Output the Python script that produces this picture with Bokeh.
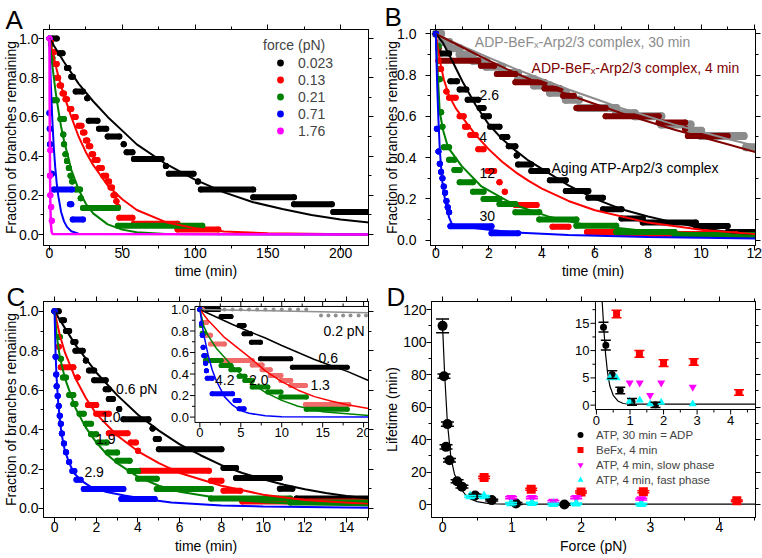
import numpy as np
from bokeh.plotting import figure
from bokeh.layouts import column, row
from bokeh.models import (Range1d, LinearAxis, SingleIntervalTicker, NumeralTickFormatter,
                          PrintfTickFormatter, Label, Legend, LegendItem)
from bokeh.embed import file_html
from bokeh.resources import INLINE
from bokeh.core.properties import value

FONT = "Liberation Sans"

# ======================= DATA =======================
# survival curves given as steps: (t_start, t_end, fraction remaining)
# ---------- Panel A (time in min) ----------
A_LEGEND = ["0.023", "0.13", "0.21", "0.71", "1.76"]
A_black = [(2, 5, 1.0), (7, 9, 0.925), (12, 13, 0.85), (15, 16, 0.805), (18, 23, 0.73), (26, 26, 0.695),
           (27, 33, 0.58), (34, 39, 0.54), (40, 48, 0.50), (51, 51, 0.46), (53, 57, 0.42), (58, 77, 0.385),
           (80, 80, 0.35), (82, 99, 0.31), (102, 102, 0.27), (104, 140, 0.23), (140, 168, 0.19),
           (168, 194, 0.155), (195, 222, 0.115)]
A_red = [(1, 1, 0.98), (3, 3, 0.93), (4, 5, 0.87), (5, 6, 0.80), (7, 8, 0.76), (9, 10, 0.72), (11, 12, 0.69),
         (14, 15, 0.64), (17, 18, 0.60), (20, 22, 0.555), (23, 24, 0.52), (25, 26, 0.48), (27, 28, 0.45),
         (29, 30, 0.41), (31, 33, 0.38), (34, 36, 0.34), (37, 39, 0.30), (40, 41, 0.27), (42, 43, 0.24),
         (44, 45, 0.20), (46, 46, 0.17), (47, 47, 0.14), (48, 57, 0.085), (58, 88, 0.055), (88, 116, 0.025)]
A_green = [(1, 1, 0.97), (2, 2, 0.90), (3, 5, 0.685), (7.5, 10, 0.59), (9.5, 9.5, 0.51), (10, 10, 0.46),
           (11, 11, 0.41), (12, 12, 0.375), (13.3, 13.3, 0.34), (14.5, 14.5, 0.30), (15.6, 15.6, 0.27),
           (18, 21, 0.23), (21.5, 21.5, 0.185), (23, 47, 0.135), (47, 105, 0.045)]
A_blue = [(0, 0, 1.0), (0, 0, 0.62), (0.2, 0.2, 0.54), (0.4, 0.4, 0.46), (1.6, 1.6, 0.31), (3, 15.5, 0.23),
          (14, 15, 0.155), (16, 23, 0.077)]
A_mag = [(0, 0, 1.0), (0.6, 0.6, 0.43), (0.3, 0.3, 0.30), (0.6, 0.6, 0.20), (1.2, 1.2, 0.14), (1.6, 1.6, 0.07)]
A_black_fit_t = [0, 10, 20, 30, 40, 50, 60, 80, 100, 120, 140, 160, 180, 200, 222]
A_black_fit_y = [1.0, 0.88, 0.77, 0.68, 0.60, 0.53, 0.46, 0.36, 0.28, 0.215, 0.165, 0.13, 0.10, 0.077, 0.06]
A_red_fit_t = [0, 2.5, 5, 7.5, 10, 15, 20, 25, 30, 40, 50, 60, 80, 100, 120, 150, 222]
A_red_fit_y = [1.0, 0.92, 0.84, 0.77, 0.71, 0.60, 0.50, 0.42, 0.355, 0.25, 0.18, 0.125, 0.063, 0.032, 0.016, 0.006, 0.0]
A_green_fit_t = [0, 1, 2, 4, 6, 8, 10, 15, 20, 25, 30, 40, 50, 60, 80, 222]
A_green_fit_y = [1.0, 0.93, 0.86, 0.74, 0.64, 0.55, 0.48, 0.33, 0.23, 0.157, 0.108, 0.052, 0.025, 0.012, 0.003, 0.0]
A_blue_fit_t = [0, 0.5, 1, 2, 3, 4, 5, 6, 8, 10, 12, 15, 20, 222]
A_blue_fit_y = [1.0, 0.87, 0.76, 0.58, 0.44, 0.34, 0.26, 0.20, 0.115, 0.067, 0.039, 0.017, 0.0045, 0.0]
A_mag_fit_t = [0, 0.1, 0.2, 0.3, 0.4, 0.6, 0.8, 1, 1.5, 2, 222]
A_mag_fit_y = [1.0, 0.75, 0.55, 0.42, 0.30, 0.17, 0.10, 0.05, 0.015, 0.003, 0.0]

# ---------- Panel B ----------
B_gray = [(0, 0.2, 1.0), (0.2, 0.5, 0.96), (0.5, 0.9, 0.93), (0.9, 1.4, 0.90), (1.4, 1.9, 0.87), (1.9, 2.5, 0.84),
          (2.5, 3.1, 0.81), (3.1, 3.7, 0.78), (3.7, 4.3, 0.75), (4.3, 4.9, 0.715), (4.9, 5.4, 0.68),
          (5.4, 6.8, 0.64), (6.8, 7.5, 0.615), (7.5, 8.5, 0.60), (8.5, 9.6, 0.56), (9.6, 10.0, 0.53),
          (10.0, 11.6, 0.505), (11.7, 12.1, 0.45)]
B_dred = [(0, 0, 1.0), (0.1, 0.1, 0.93), (0.15, 1.6, 0.87), (1.7, 2.2, 0.845), (2.3, 3.0, 0.805), (3.0, 4.1, 0.765),
          (4.1, 4.7, 0.735), (4.8, 5.2, 0.70), (5.3, 6.4, 0.64), (6.4, 8.4, 0.60), (8.4, 9.4, 0.57),
          (9.4, 9.4, 0.54), (9.5, 11.0, 0.505)]
B_black = [(0, 0, 1.0), (0.2, 0.5, 0.905), (0.55, 0.8, 0.77), (0.9, 1.15, 0.73), (1.2, 1.6, 0.68), (1.65, 1.8, 0.64),
           (1.8, 2.0, 0.60), (2.05, 2.4, 0.55), (2.5, 2.7, 0.50), (2.75, 3.0, 0.455), (3.05, 3.05, 0.41),
           (3.1, 3.6, 0.367), (3.6, 4.2, 0.335), (4.3, 4.9, 0.29), (4.9, 5.75, 0.238), (5.75, 6.3, 0.206),
           (6.3, 7.0, 0.15), (7.0, 7.8, 0.105), (7.8, 9.8, 0.085), (9.8, 11.0, 0.069), (11.0, 12.1, 0.04)]
B_red = [(0, 0, 1.0), (0.1, 0.1, 0.87), (0.15, 0.2, 0.83), (0.4, 0.4, 0.72), (0.5, 0.75, 0.69), (0.9, 1.05, 0.60),
         (1.1, 1.2, 0.55), (1.3, 1.5, 0.51), (1.6, 1.8, 0.44), (1.95, 2.2, 0.335), (2.4, 2.4, 0.28),
         (2.6, 2.6, 0.235), (3.0, 3.8, 0.17), (4.4, 5.0, 0.065), (5.7, 6.8, 0.04), (6.8, 11.3, 0.03)]
B_green = [(0, 0, 1.0), (0.1, 0.1, 0.94), (0.15, 0.15, 0.78), (0.2, 0.2, 0.62), (0.25, 0.25, 0.55), (0.3, 0.5, 0.45),
           (0.5, 0.7, 0.39), (0.7, 0.9, 0.34), (0.9, 1.4, 0.28), (1.4, 1.8, 0.235), (1.8, 2.4, 0.20),
           (2.4, 3.0, 0.175), (3.0, 3.9, 0.135), (3.9, 5.3, 0.10), (5.3, 6.8, 0.07), (6.8, 9.0, 0.04),
           (9.0, 12.1, 0.025)]
B_blue = [(0, 0, 1.0), (0.04, 0.04, 0.54), (0.1, 0.1, 0.43), (0.15, 0.15, 0.37), (0.2, 0.2, 0.33), (0.25, 0.25, 0.30),
          (0.3, 0.3, 0.26), (0.35, 0.35, 0.23), (0.4, 0.4, 0.19), (0.45, 0.45, 0.16), (0.5, 0.5, 0.135),
          (0.55, 2.1, 0.067), (2.1, 3.1, 0.033)]
B_fit_t12 = [0, 1, 2, 3, 4, 5, 6, 7, 8, 9, 10, 11, 12.1]
B_gray_fit_y = [1.0, 0.94, 0.885, 0.83, 0.78, 0.73, 0.685, 0.64, 0.60, 0.56, 0.525, 0.49, 0.455]
B_dred_fit_y = [1.0, 0.935, 0.87, 0.81, 0.755, 0.705, 0.66, 0.615, 0.575, 0.535, 0.50, 0.465, 0.425]
B_black_fit_t = [0, 0.25, 0.5, 1, 1.5, 2, 2.5, 3, 3.5, 4, 5, 6, 7, 8, 9, 10, 11, 12.1]
B_black_fit_y = [1.0, 0.96, 0.90, 0.77, 0.655, 0.56, 0.49, 0.435, 0.385, 0.345, 0.265, 0.20, 0.15, 0.115, 0.085, 0.06, 0.04, 0.025]
B_red_fit_t = [0, 0.1, 0.2, 0.3, 0.5, 0.75, 1, 1.5, 2, 2.5, 3, 3.5, 4, 5, 6, 8, 10, 12.1]
B_red_fit_y = [1.0, 0.91, 0.84, 0.78, 0.70, 0.64, 0.595, 0.51, 0.44, 0.38, 0.33, 0.287, 0.25, 0.19, 0.145, 0.085, 0.05, 0.028]
B_green_fit_t = [0, 0.05, 0.1, 0.15, 0.28, 0.46, 0.97, 1.72, 2.98, 4.23, 5.49, 8, 12.1]
B_green_fit_y = [1.0, 0.86, 0.74, 0.62, 0.53, 0.45, 0.36, 0.26, 0.17, 0.115, 0.078, 0.043, 0.02]
B_blue_fit_t = [0, 0.03, 0.06, 0.1, 0.15, 0.23, 0.3, 0.41, 0.5, 0.6, 0.8, 1.2, 2, 3, 5, 8, 12.1]
B_blue_fit_y = [1.0, 0.85, 0.72, 0.58, 0.44, 0.30, 0.23, 0.158, 0.11, 0.08, 0.068, 0.062, 0.05, 0.037, 0.025, 0.015, 0.008]

# ---------- Panel C ----------
C_black = [(0, 0.2, 1.0), (0.35, 0.45, 0.955), (0.55, 0.7, 0.90), (0.9, 1.0, 0.845), (1.0, 1.35, 0.80), (1.5, 1.5, 0.75),
           (1.65, 1.9, 0.70), (1.9, 2.45, 0.65), (2.45, 2.6, 0.605), (2.6, 2.8, 0.555), (3.1, 3.1, 0.505),
           (3.3, 4.5, 0.453), (4.7, 4.7, 0.405), (4.85, 5.0, 0.352), (5.0, 8.0, 0.30), (8.1, 8.7, 0.205),
           (8.7, 10.8, 0.154), (10.8, 11.4, 0.10), (11.6, 15.1, 0.05)]
C_red = [(0, 0, 1.0), (0.2, 0.2, 0.82), (0.3, 0.9, 0.716), (1.1, 1.1, 0.665), (1.6, 2.0, 0.525), (2.0, 2.6, 0.48),
         (2.6, 3.5, 0.382), (3.65, 3.9, 0.335), (4.0, 4.0, 0.293), (4.1, 7.4, 0.191), (7.5, 8.0, 0.14),
         (8.1, 8.9, 0.09), (9.0, 15.1, 0.035)]
C_green = [(0, 0, 1.0), (0.25, 0.25, 0.87), (0.3, 0.3, 0.76), (0.4, 0.55, 0.665), (0.7, 0.9, 0.575), (0.9, 1.0, 0.53),
           (1.2, 1.4, 0.48), (1.5, 1.75, 0.43), (1.75, 2.0, 0.377), (2.1, 2.5, 0.335), (2.55, 3.0, 0.284),
           (3.0, 3.6, 0.242), (3.6, 4.0, 0.19), (4.0, 4.9, 0.15), (4.9, 7.5, 0.098), (7.5, 11.3, 0.05),
           (11.3, 15.1, 0.03)]
C_blue = [(0, 0, 1.0), (0.05, 0.05, 0.77), (0.08, 0.08, 0.68), (0.1, 0.1, 0.62), (0.15, 0.15, 0.57), (0.2, 0.2, 0.52),
          (0.25, 0.25, 0.47), (0.3, 0.3, 0.43), (0.35, 0.35, 0.38), (0.45, 0.45, 0.33), (0.55, 0.55, 0.285),
          (0.7, 0.7, 0.235), (0.85, 0.95, 0.19), (1.05, 1.25, 0.145), (1.4, 3.3, 0.098), (3.2, 4.8, 0.048)]
C_black_fit_t = [0, 1, 2, 3, 4, 5, 6, 7, 8, 9, 10, 11, 12, 13, 14, 15.1]
C_black_fit_y = [1.0, 0.83, 0.69, 0.575, 0.475, 0.395, 0.325, 0.27, 0.22, 0.18, 0.148, 0.12, 0.097, 0.078, 0.063, 0.05]
C_red_fit_t = [0, 0.25, 0.5, 1, 1.5, 2, 3, 4, 5, 6, 8, 10, 12, 15.1]
C_red_fit_y = [1.0, 0.88, 0.79, 0.66, 0.56, 0.48, 0.37, 0.29, 0.23, 0.18, 0.115, 0.07, 0.043, 0.022]
C_green_fit_t = [0, 0.1, 0.25, 0.5, 1, 1.5, 2, 2.5, 3, 4, 5, 6, 8, 10, 12, 15.1]
C_green_fit_y = [1.0, 0.88, 0.77, 0.66, 0.51, 0.41, 0.335, 0.275, 0.23, 0.16, 0.115, 0.085, 0.05, 0.032, 0.022, 0.015]
C_blue_fit_t = [0, 0.05, 0.1, 0.16, 0.25, 0.35, 0.48, 0.7, 0.96, 1.3, 1.75, 2.5, 3.35, 4.5, 5.6, 8, 10, 15.1]
C_blue_fit_y = [1.0, 0.78, 0.66, 0.557, 0.45, 0.37, 0.30, 0.23, 0.176, 0.14, 0.108, 0.083, 0.066, 0.045, 0.03, 0.015, 0.01, 0.004]

# ---------- Panel C inset ----------
IC_gray_t = [1, 2, 3, 4, 5, 6, 7, 8, 9, 10, 11, 12, 13, 14.8, 15.7, 16.6, 17.5, 18.4, 19.4, 20.3]
IC_gray_y = [1.0, 1.0, 1.0, 1.0, 1.0, 1.0, 1.0, 1.0, 1.0, 1.0, 1.0, 1.0, 1.0, 0.944, 0.944, 0.944, 0.944, 0.944, 0.944, 0.944]
IC_black = [(0, 2.3, 1.0), (2.6, 3.8, 0.935), (4.8, 5.4, 0.851), (5.4, 6.2, 0.774), (6.3, 7.4, 0.696),
            (7.4, 11.1, 0.542), (11.3, 18.0, 0.464)]
IC_red = [(0, 0.3, 1.0), (0.3, 0.8, 0.88), (0.8, 1.3, 0.76), (1.3, 3.0, 0.68), (3.0, 6.4, 0.526), (6.4, 7.6, 0.485),
          (7.6, 8.6, 0.44), (8.6, 9.9, 0.387), (9.9, 11.1, 0.34), (11.1, 12.9, 0.294), (12.9, 18.2, 0.118)]
IC_green = [(0, 0, 1.0), (0.2, 0.2, 0.85), (0.3, 0.5, 0.78), (0.5, 0.7, 0.57), (0.7, 2.6, 0.526), (2.6, 3.8, 0.48),
            (3.8, 4.8, 0.44), (4.8, 5.5, 0.38), (5.5, 6.4, 0.34), (6.4, 8.3, 0.28), (8.3, 9.9, 0.232),
            (9.9, 13.0, 0.186), (13.0, 18.0, 0.072)]
IC_blue = [(0, 0, 1.0), (0.2, 0.2, 0.87), (0.3, 0.3, 0.76), (0.4, 0.4, 0.65), (0.5, 0.6, 0.57), (0.7, 0.7, 0.50),
           (0.8, 0.8, 0.43), (0.9, 1.5, 0.36), (1.5, 4.0, 0.217), (4.3, 4.8, 0.155), (4.8, 5.4, 0.078)]
IC_gray_fit_t = [0, 10, 20.6]
IC_gray_fit_y = [1.0, 0.985, 0.97]
IC_black_fit_t = [0, 2, 4, 6, 8, 10, 12, 14, 16, 18, 20.6]
IC_black_fit_y = [1.0, 0.93, 0.86, 0.795, 0.735, 0.665, 0.60, 0.535, 0.48, 0.425, 0.34]
IC_red_fit_t = [0, 1, 2, 3, 4, 5, 6, 8, 10, 12, 14, 16, 18, 20.6]
IC_red_fit_y = [1.0, 0.90, 0.82, 0.74, 0.68, 0.62, 0.56, 0.43, 0.33, 0.25, 0.19, 0.15, 0.115, 0.08]
IC_green_fit_t = [0, 0.5, 1, 2, 3, 4, 5, 6, 7, 8, 10, 12, 15, 20.6]
IC_green_fit_y = [1.0, 0.84, 0.76, 0.64, 0.556, 0.47, 0.40, 0.335, 0.28, 0.23, 0.155, 0.10, 0.05, 0.015]
IC_blue_fit_t = [0, 0.25, 0.5, 1, 1.5, 2, 3, 4, 5, 6, 8, 10, 20.6]
IC_blue_fit_y = [1.0, 0.87, 0.76, 0.58, 0.44, 0.34, 0.19, 0.11, 0.06, 0.035, 0.012, 0.004, 0.0]
IC_XTICKS = [0, 5, 10, 15, 20]
IC_XMINOR = [2.5, 7.5, 12.5, 17.5]
IC_YTICKS = [0.0, 0.2, 0.4, 0.6, 0.8, 1.0]
IC_YMINOR = [0.1, 0.3, 0.5, 0.7, 0.9]

# ---------- Panel D (force pN, lifetime min) ----------
D_LEGEND = ["ATP, 30 min = ADP", "BeFx, 4 min", "ATP, 4 min, slow phase", "ATP, 4 min, fast phase"]
D_adp_f = [0.0, 0.02, 0.07, 0.05, 0.1, 0.21, 0.28, 0.47, 0.71, 1.06, 1.76]
D_adp_life = [110, 79, 49.5, 35.5, 27.2, 14.3, 11.0, 5.6, 2.7, 0.6, 0.05]
D_adp_err = [4.3, 1.3, 1.3, 1.3, 1.1, 0.9, 0.9, 0.7, 0.6, 0.6, 0.5]
D_bef_f = [0.6, 1.28, 2.0, 2.9, 4.25]
D_bef_life = [16.7, 9.4, 7.7, 7.9, 2.3]
D_bef_err = [0.7, 0.6, 0.6, 0.6, 0.5]
D_slow_f = [0.99, 1.29, 1.6, 1.93, 2.87]
D_slow_life = [4.1, 4.1, 1.8, 4.1, 3.3]
D_slow_err = [0.6, 0.6, 0.6, 0.6, 0.6]
D_fast_f = [0.4, 0.6, 0.99, 1.29, 1.6, 1.93, 2.87]
D_fast_life = [5.0, 5.0, 0.7, 0.9, 0.2, 0.5, 0.2]
D_fast_err = [0.5, 0.5, 0.5, 0.5, 0.5, 0.5, 0.5]
D_fit_f = [0, 0.03, 0.07, 0.12, 0.17, 0.22, 0.27, 0.33, 0.4, 0.5, 0.65, 0.8, 1.0, 4.74]
D_fit_life = [110, 80, 50, 29, 19, 14, 9.5, 6, 3.5, 1.8, 0.7, 0.3, 0.2, 0.2]
ID_XTICKS = [0, 1, 2, 3, 4]
ID_XMINOR = [0.5, 1.5, 2.5, 3.5, 4.5]
ID_YTICKS = [0, 5, 10, 15]
ID_YMINOR = [2.5, 7.5, 12.5, 17.5]

# ======================= HELPERS =======================
def base_fig(w, h, xr, yr, bl, br, bt, bb):
    p = figure(width=w, height=h, x_range=Range1d(*xr), y_range=Range1d(*yr),
               output_backend="svg", toolbar_location=None,
               min_border_left=bl, min_border_right=br, min_border_top=bt, min_border_bottom=bb)
    p.grid.visible = False
    p.outline_line_color = "black"
    p.outline_line_width = 1
    p.background_fill_color = "white"
    p.border_fill_color = "white"
    return p


def set_letter(p, txt, offset, standoff):
    p.title.text = txt
    p.title.align = "left"
    p.title.vertical_align = "bottom"
    p.title.offset = offset
    p.title.standoff = standoff
    p.title.text_font = FONT
    p.title.text_font_size = "26px"
    p.title.text_font_style = "normal"
    p.title.text_color = "black"


def style_axis(ax, labels=True):
    ax.axis_line_color = "black"
    ax.major_tick_line_color = "black"
    ax.minor_tick_line_color = "black"
    ax.major_tick_out = 5
    ax.major_tick_in = 0
    ax.minor_tick_out = 3
    ax.minor_tick_in = 0
    ax.major_label_text_font = FONT
    ax.major_label_text_font_size = "14px"
    ax.major_label_text_color = "black"
    ax.axis_label_text_font = FONT
    ax.axis_label_text_font_size = "14px"
    ax.axis_label_text_font_style = "normal"
    ax.axis_label_text_color = "black"
    ax.major_label_standoff = 1
    ax.axis_label_standoff = 1
    if not labels:
        ax.major_label_text_color = None
        ax.major_label_text_font_size = "1px"
        ax.major_label_standoff = 0


def setup_axes(p, xint, yint, xfmt, yfmt, xlabel, ylabel, xs1, xs2, ys1, ys2):
    p.xaxis[0].ticker = SingleIntervalTicker(interval=xint, num_minor_ticks=2)
    p.xaxis[0].formatter = xfmt
    p.xaxis[0].axis_label = xlabel
    p.yaxis[0].ticker = SingleIntervalTicker(interval=yint, num_minor_ticks=2)
    p.yaxis[0].formatter = yfmt
    p.yaxis[0].axis_label = ylabel
    style_axis(p.xaxis[0])
    style_axis(p.yaxis[0])
    p.xaxis[0].major_label_standoff = xs1
    p.xaxis[0].axis_label_standoff = xs2
    p.yaxis[0].major_label_standoff = ys1
    p.yaxis[0].axis_label_standoff = ys2
    top = LinearAxis(ticker=SingleIntervalTicker(interval=xint, num_minor_ticks=2))
    style_axis(top, False)
    p.add_layout(top, "above")
    right = LinearAxis(ticker=SingleIntervalTicker(interval=yint, num_minor_ticks=2))
    style_axis(right, False)
    p.add_layout(right, "right")


def draw_steps(p, steps, color, size, **kw):
    x0 = [s[0] for s in steps]
    x1 = [s[1] for s in steps]
    y = [s[2] for s in steps]
    p.segment(x0=x0, y0=y, x1=x1, y1=y, line_color=color, line_width=size, line_cap="round", **kw)
    return p.scatter(x=x0 + x1, y=y + y, size=size, marker="circle", fill_color=color, line_color=None, **kw)


def fit(p, t, y, color, width=2, **kw):
    p.line(x=t, y=y, line_color=color, line_width=width, **kw)


def note(p, txt, x, y, color="black", size="14px", **kw):
    p.add_layout(Label(x=x, y=y, text=txt, text_font=FONT, text_font_size=size, text_color=color,
                       text_baseline="middle", text_align="left", **kw))


def frac_range(d0, d1, f0, f1):
    span = (d1 - d0) / (f1 - f0)
    start = d0 - f0 * span
    return Range1d(start, start + span)


def inset_frame(p, xr, yr, rx, ry, xt, xm, yt, ym, xlab, ylab, top_ticks):
    kw = dict(x_range_name=rx, y_range_name=ry)
    p.quad(left=[xr[0]], right=[xr[1]], bottom=[yr[0]], top=[yr[1]], fill_color="white",
           line_color="black", line_width=1, **kw)
    p.ray(x=xt, y=[yr[0]] * len(xt), length=5, length_units="screen", angle=-np.pi / 2, line_color="black", **kw)
    p.ray(x=xm, y=[yr[0]] * len(xm), length=3, length_units="screen", angle=-np.pi / 2, line_color="black", **kw)
    if top_ticks:
        p.ray(x=xt, y=[yr[1]] * len(xt), length=5, length_units="screen", angle=np.pi / 2, line_color="black", **kw)
        p.ray(x=xm, y=[yr[1]] * len(xm), length=3, length_units="screen", angle=np.pi / 2, line_color="black", **kw)
    p.ray(x=[xr[0]] * len(yt), y=yt, length=5, length_units="screen", angle=np.pi, line_color="black", **kw)
    p.ray(x=[xr[0]] * len(ym), y=ym, length=3, length_units="screen", angle=np.pi, line_color="black", **kw)
    p.text(x=xt, y=[yr[0]] * len(xt), text=xlab, text_font=value(FONT), text_font_size="13px",
           text_align="center", text_baseline="top", y_offset=6, text_color="black", **kw)
    p.text(x=[xr[0]] * len(yt), y=yt, text=ylab, text_font=value(FONT), text_font_size="13px",
           text_align="right", text_baseline="middle", x_offset=-6, text_color="black", **kw)


def errbars(p, xs, ys, es, color, cap, **kw):
    lo = [y - e for y, e in zip(ys, es)]
    hi = [y + e for y, e in zip(ys, es)]
    p.segment(x0=xs, y0=lo, x1=xs, y1=hi, line_color=color, line_width=1, **kw)
    p.scatter(x=xs + xs, y=lo + hi, marker="dash", size=cap, line_color=color, line_width=1.5, **kw)


FRAC = NumeralTickFormatter(format="0.0")
YLAB = "Fraction of branches remaining"

# layout (pixels)
TOP_H, BOT_H, COL_W = 281, 277, 381
A_XR, A_YR = (-4.1, 219.2), (-0.056, 1.046)
B_XR, B_YR = (-0.2, 12.05), (-0.026, 1.021)
C_XR, C_YR = (-0.53, 15.05), (-0.046, 1.05)
D_XR, D_YR = (-0.16, 4.52), (-8, 125)

# ======================= PANEL A =======================
pA = base_fig(COL_W, TOP_H, A_XR, A_YR, 43, 13, 29, 35)
setup_axes(pA, 50, 0.2, PrintfTickFormatter(format="%d"), FRAC, "time (min)", YLAB, -3, 2, 0, -3)
rA = []
rA.append(draw_steps(pA, A_black, "black", 6))
rA.append(draw_steps(pA, A_red, "#ff0000", 6))
rA.append(draw_steps(pA, A_green, "#008000", 6))
rA.append(draw_steps(pA, A_blue, "#0000ff", 6))
rA.append(draw_steps(pA, A_mag, "#ff00ff", 6))
fit(pA, A_black_fit_t, A_black_fit_y, "black")
fit(pA, A_red_fit_t, A_red_fit_y, "#ff0000")
fit(pA, A_green_fit_t, A_green_fit_y, "#008000")
fit(pA, A_blue_fit_t, A_blue_fit_y, "#0000ff")
fit(pA, A_mag_fit_t, A_mag_fit_y, "#ff00ff", 2.5)
legA = Legend(items=[LegendItem(label=l, renderers=[r]) for l, r in zip(A_LEGEND, rA)],
              location=(220, 106), title="force (pN)", title_text_font=FONT, title_text_font_size="14px",
              title_text_font_style="normal", title_standoff=1, label_text_font=FONT,
              label_text_font_size="14px", glyph_width=34, glyph_height=17, label_height=17,
              label_standoff=1, spacing=0, padding=0, margin=0, border_line_color=None,
              background_fill_alpha=0)
pA.add_layout(legA)
set_letter(pA, "A", -38, -21)

# ======================= PANEL B =======================
pB = base_fig(COL_W, TOP_H, B_XR, B_YR, 49, 7, 29, 35)
setup_axes(pB, 2, 0.2, PrintfTickFormatter(format="%d"), FRAC, "time (min)", YLAB, -3, 2, 9, -6)
draw_steps(pB, B_gray, "#8c8c8c", 8)
draw_steps(pB, B_dred, "#800000", 6)
draw_steps(pB, B_black, "black", 6)
draw_steps(pB, B_red, "#ff0000", 6)
draw_steps(pB, B_green, "#008000", 6)
draw_steps(pB, B_blue, "#0000ff", 6)
fit(pB, B_fit_t12, B_gray_fit_y, "#8c8c8c")
fit(pB, B_fit_t12, B_dred_fit_y, "#800000")
fit(pB, B_black_fit_t, B_black_fit_y, "black")
fit(pB, B_red_fit_t, B_red_fit_y, "#ff0000")
fit(pB, B_green_fit_t, B_green_fit_y, "#008000")
fit(pB, B_blue_fit_t, B_blue_fit_y, "#0000ff")
note(pB, "ADP-BeF\u2093-Arp2/3 complex, 30 min", 1.47, 0.96, "#8c8c8c")
note(pB, "ADP-BeF\u2093-Arp2/3 complex, 4 min", 3.61, 0.832, "#800000")
note(pB, "2.6", 1.65, 0.703)
note(pB, "4", 1.64, 0.50)
note(pB, "12", 1.65, 0.325)
note(pB, "30", 1.65, 0.116)
note(pB, "Aging ATP-Arp2/3 complex", 4.36, 0.349)
set_letter(pB, "B", -46, -15)

# ======================= PANEL C =======================
pC = base_fig(COL_W, BOT_H, C_XR, C_YR, 42, 13, 20, 41)
setup_axes(pC, 2, 0.2, PrintfTickFormatter(format="%d"), FRAC, "time (min)", YLAB, -1, 3, 0, -3)
draw_steps(pC, C_black, "black", 6)
draw_steps(pC, C_red, "#ff0000", 6)
draw_steps(pC, C_green, "#008000", 6)
draw_steps(pC, C_blue, "#0000ff", 6)
fit(pC, C_black_fit_t, C_black_fit_y, "black")
fit(pC, C_red_fit_t, C_red_fit_y, "#ff0000")
fit(pC, C_green_fit_t, C_green_fit_y, "#008000")
fit(pC, C_blue_fit_t, C_blue_fit_y, "#0000ff")
note(pC, "0.6 pN", 2.95, 0.606)
note(pC, "1.0", 2.23, 0.462)
note(pC, "1.9", 1.99, 0.352)
note(pC, "2.9", 1.43, 0.183)
ICX, ICY = (-0.6, 20.6), (-0.05, 1.028)
pC.extra_x_ranges = {"ix": frac_range(ICX[0], ICX[1], 0.466, 1.0)}
pC.extra_y_ranges = {"iy": frac_range(ICY[0], ICY[1], 0.44, 0.977)}
inset_frame(pC, ICX, ICY, "ix", "iy", IC_XTICKS, IC_XMINOR, IC_YTICKS, IC_YMINOR,
            ["%d" % v for v in IC_XTICKS], ["%.1f" % v for v in IC_YTICKS], True)
ik = dict(x_range_name="ix", y_range_name="iy")
pC.scatter(x=IC_gray_t, y=IC_gray_y, size=4, fill_color="#909090", line_color=None, **ik)
draw_steps(pC, IC_black, "black", 5, **ik)
draw_steps(pC, IC_red, "#f26b6b", 5, **ik)
draw_steps(pC, IC_green, "#008000", 5, **ik)
draw_steps(pC, IC_blue, "#0000ff", 5, **ik)
fit(pC, IC_gray_fit_t, IC_gray_fit_y, "#909090", 1.5, **ik)
fit(pC, IC_black_fit_t, IC_black_fit_y, "black", 1.5, **ik)
fit(pC, IC_red_fit_t, IC_red_fit_y, "#ff0000", 1.5, **ik)
fit(pC, IC_green_fit_t, IC_green_fit_y, "#008000", 1.5, **ik)
fit(pC, IC_blue_fit_t, IC_blue_fit_y, "#0000ff", 1.5, **ik)
note(pC, "0.2 pN", 15.1, 0.80, **ik)
note(pC, "0.6", 14.5, 0.55, **ik)
note(pC, "1.3", 13.5, 0.294, **ik)
note(pC, "4.2", 1.85, 0.34, **ik)
note(pC, "2.0", 6.0, 0.34, **ik)
set_letter(pC, "C", -37, -30)

# ======================= PANEL D =======================
pD = base_fig(COL_W, BOT_H, D_XR, D_YR, 48, 7, 20, 41)
setup_axes(pD, 1, 20, PrintfTickFormatter(format="%d"), PrintfTickFormatter(format="%d"),
           "Force (pN)", "Lifetime (min)", -1, 3, 0, 0)
fit(pD, D_fit_f, D_fit_life, "black", 1.2)
rD = []
rD.append(pD.scatter(x=D_adp_f, y=D_adp_life, marker="circle", size=10, fill_color="black", line_color=None))
rD.append(pD.scatter(x=D_bef_f, y=D_bef_life, marker="square", size=9, fill_color="#ff0000", line_color=None))
rD.append(pD.scatter(x=D_slow_f, y=D_slow_life, marker="inverted_triangle", size=10, fill_color="#ff00ff", line_color=None))
rD.append(pD.scatter(x=D_fast_f, y=D_fast_life, marker="triangle", size=10, fill_color="#00ffff", line_color=None))
errbars(pD, D_adp_f, D_adp_life, D_adp_err, "black", 13)
errbars(pD, D_bef_f, D_bef_life, D_bef_err, "#ff0000", 12)
errbars(pD, D_slow_f, D_slow_life, D_slow_err, "#ff00ff", 12)
errbars(pD, D_fast_f, D_fast_life, D_fast_err, "#00ffff", 12)
legD = Legend(items=[LegendItem(label=l, renderers=[r]) for l, r in zip(D_LEGEND, rD)],
              location=(139, 30), label_text_font=FONT, label_text_font_size="11.5px",
              glyph_width=20, glyph_height=15, label_height=15, label_standoff=6, spacing=0,
              padding=0, margin=0, border_line_color=None, background_fill_alpha=0)
pD.add_layout(legD)
IDX, IDY = (-0.03, 4.74), (-0.8, 19.0)
pD.extra_x_ranges = {"jx": frac_range(IDX[0], IDX[1], 0.506, 1.0)}
pD.extra_y_ranges = {"jy": frac_range(IDY[0], IDY[1], 0.5, 1.0)}
inset_frame(pD, IDX, IDY, "jx", "jy", ID_XTICKS, ID_XMINOR, ID_YTICKS, ID_YMINOR,
            ["%d" % v for v in ID_XTICKS], ["%d" % v for v in ID_YTICKS], False)
jk = dict(x_range_name="jx", y_range_name="jy")
fit(pD, D_fit_f, D_fit_life, "black", 1.2, **jk)
pD.scatter(x=D_adp_f, y=D_adp_life, marker="circle", size=7, fill_color="black", line_color=None, **jk)
pD.scatter(x=D_bef_f, y=D_bef_life, marker="square", size=7, fill_color="#ff0000", line_color=None, **jk)
pD.scatter(x=D_slow_f, y=D_slow_life, marker="inverted_triangle", size=8, fill_color="#ff00ff", line_color=None, **jk)
pD.scatter(x=D_fast_f, y=D_fast_life, marker="triangle", size=8, fill_color="#00ffff", line_color=None, **jk)
errbars(pD, D_adp_f, D_adp_life, D_adp_err, "black", 10, **jk)
errbars(pD, D_bef_f, D_bef_life, D_bef_err, "#ff0000", 10, **jk)
set_letter(pD, "D", -45, -30)

layout = column(row(pA, pB), row(pC, pD))
open("out.html", "w").write(file_html(layout, INLINE))
